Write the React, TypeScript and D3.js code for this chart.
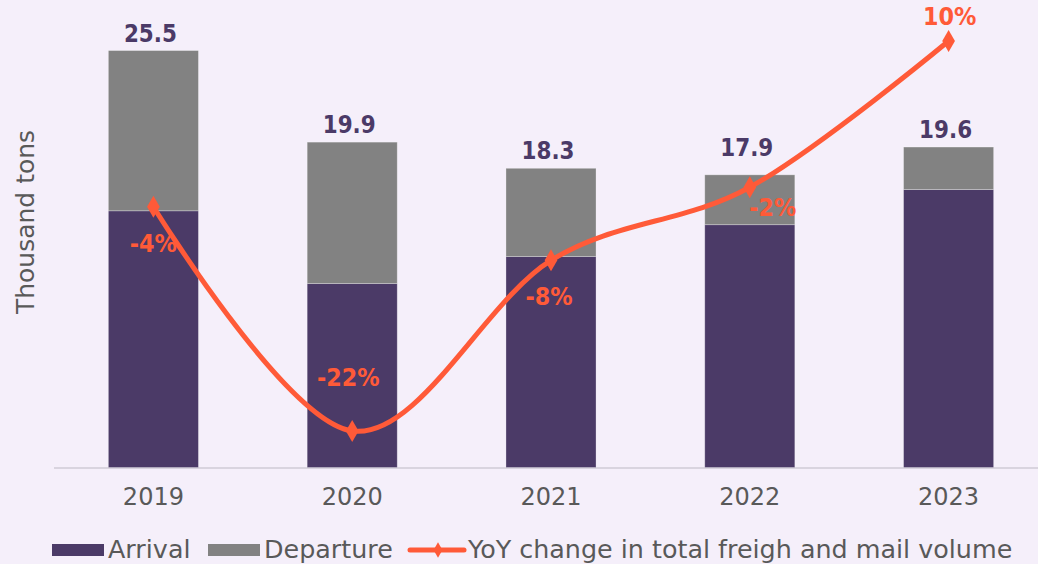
import React from "react";
import * as d3 from "d3";

const years = ["2019", "2020", "2021", "2022", "2023"];
const arrival = [15.7, 11.25, 12.9, 14.85, 17.0];
const departure = [9.8, 8.65, 5.4, 3.05, 2.6];
const totals = [25.5, 19.9, 18.3, 17.9, 19.6];
const yoy = [-3.6, -22, -8, -2, 10];
const yoyLabels = ["-4%", "-22%", "-8%", "-2%", "10%"];

const W = 1038;
const H = 564;
const BG = "#f5effa";
const C_ARR = "#4b3a67";
const C_DEP = "#828282";
const C_LINE = "#ff5a38";
const C_TEXT = "#595959";
const FONT = "'DejaVu Sans', sans-serif";

export default function App() {
  const baseY = 467.5;
  const x = d3.scaleBand<string>().domain(years).range([54, 1048]).paddingInner(0.547).paddingOuter(0.2735);
  const y = d3.scaleLinear().domain([0, 27]).range([baseY, baseY - 27 * 16.35]);
  const y2 = d3.scaleLinear().domain([-25, 10]).range([baseY, 41]);
  const cx = (yr: string) => (x(yr) as number) + x.bandwidth() / 2;

  const linePath = d3
    .line<number>()
    .x((_, i) => cx(years[i]))
    .y((d) => y2(d))
    .curve(d3.curveCardinal.tension(0))(yoy) as string;

  const diamond = d3.symbol().type(d3.symbolDiamond).size(140)() as string;

  // label placement offsets relative to point (dx, baseline dy)
  const pctOffsets: [number, number][] = [
    [0, 45],
    [-4, -45],
    [-2, 45],
    [23, 29],
    [1, -16],
  ];
  const valueNudge = [0, 0, 0, -10, 0];

  return (
    <svg
      width={W}
      height={H}
      style={{ position: "absolute", left: 0, top: 0, background: BG }}
      fontFamily={FONT}
    >
      <rect x={0} y={0} width={W} height={H} fill={BG} />
      {/* axis line */}
      <line x1={54} x2={1038} y1={baseY + 0.5} y2={baseY + 0.5} stroke="#d9d4df" strokeWidth={2} />
      {/* bars */}
      {years.map((yr, i) => (
        <g key={yr}>
          <rect
            x={x(yr)}
            y={y(arrival[i])}
            width={x.bandwidth()}
            height={baseY - y(arrival[i])}
            fill={C_ARR}
            stroke="rgba(255,255,255,0.35)"
            strokeWidth={0.8}
          />
          <rect
            x={x(yr)}
            y={y(arrival[i] + departure[i])}
            width={x.bandwidth()}
            height={y(arrival[i]) - y(arrival[i] + departure[i])}
            fill={C_DEP}
            stroke="rgba(255,255,255,0.35)"
            strokeWidth={0.8}
          />
          <text
            transform={`translate(${cx(yr) - 3},${y(arrival[i] + departure[i]) - 9 + valueNudge[i]}) scale(0.86,1)`}
            textAnchor="middle"
            fontSize={25}
            fontWeight="bold"
            fill={C_ARR}
          >
            {totals[i].toFixed(1)}
          </text>
          <text x={cx(yr)} y={505} textAnchor="middle" fontSize={24} fill={C_TEXT}>
            {yr}
          </text>
        </g>
      ))}
      {/* line */}
      <path d={linePath} fill="none" stroke={C_LINE} strokeWidth={5} strokeLinejoin="round" />
      {yoy.map((v, i) => (
        <path key={i} d={diamond} transform={`translate(${cx(years[i])},${y2(v)})`} fill={C_LINE} />
      ))}
      {yoy.map((v, i) => (
        <text
          key={"l" + i}
          transform={`translate(${cx(years[i]) + pctOffsets[i][0]},${y2(v) + pctOffsets[i][1]}) scale(0.93,1)`}
          textAnchor="middle"
          fontSize={24}
          fontWeight="bold"
          fill={C_LINE}
        >
          {yoyLabels[i]}
        </text>
      ))}
      {/* y title */}
      <text
        transform="translate(34,222) rotate(-90)"
        textAnchor="middle"
        fontSize={25}
        fill={C_TEXT}
      >
        Thousand tons
      </text>
      {/* legend */}
      <g>
        <rect x={52} y={544} width={52} height={12} fill={C_ARR} />
        <text x={108} y={558} fontSize={25.4} fill={C_TEXT}>Arrival</text>
        <rect x={208} y={544} width={52} height={12} fill={C_DEP} />
        <text x={264} y={558} fontSize={25.4} fill={C_TEXT}>Departure</text>
        <line x1={410} x2={464} y1={550} y2={550} stroke={C_LINE} strokeWidth={5} strokeLinecap="round" />
        <path d={diamond} transform="translate(438,550) scale(0.7)" fill={C_LINE} />
        <text x={468} y={558} fontSize={25.4} fill={C_TEXT}>YoY change in total freigh and mail volume</text>
      </g>
    </svg>
  );
}
